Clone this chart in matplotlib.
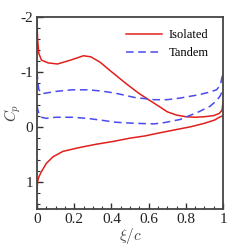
import matplotlib
matplotlib.use("Agg")
import matplotlib.pyplot as plt
from matplotlib.ticker import MultipleLocator

plt.rcParams['font.family'] = ['Liberation Serif', 'DejaVu Serif']
plt.rcParams['mathtext.fontset'] = 'cm'

# isolated airfoil, suction (upper) and pressure (lower) side
iso_up_x = [0, 0.003, 0.01, 0.024, 0.06, 0.11, 0.18, 0.25, 0.29, 0.34, 0.40, 0.48,
            0.55, 0.60, 0.66, 0.70, 0.75, 0.80, 0.85, 0.90, 0.95, 0.98, 0.995, 1.0]
iso_up_cp = [-1.95, -1.6, -1.33, -1.21, -1.16, -1.14, -1.21, -1.29, -1.27, -1.17, -1.0, -0.78,
             -0.6, -0.49, -0.36, -0.27, -0.21, -0.18, -0.17, -0.18, -0.2, -0.24, -0.3, -0.45]
iso_lo_x = [0, 0.002, 0.005, 0.012, 0.024, 0.05, 0.086, 0.14, 0.23, 0.32, 0.41, 0.50,
            0.58, 0.65, 0.74, 0.83, 0.90, 0.955, 0.98, 1.0]
iso_lo_cp = [1.18, 1.05, 0.97, 0.9, 0.82, 0.67, 0.55, 0.45, 0.38, 0.32, 0.27, 0.21,
             0.17, 0.12, 0.06, 0.0, -0.06, -0.12, -0.17, -0.2]

# tandem configuration
tan_up_x = [0, 0.005, 0.01, 0.03, 0.10, 0.19, 0.27, 0.34, 0.42, 0.525, 0.63, 0.70,
            0.77, 0.87, 0.93, 0.965, 0.985, 0.995, 1.0]
tan_up_cp = [-1.0, -0.8, -0.67, -0.6, -0.64, -0.67, -0.67, -0.65, -0.61, -0.53, -0.49, -0.49,
             -0.52, -0.58, -0.63, -0.67, -0.75, -0.9, -0.97]
tan_lo_x = [0, 0.005, 0.012, 0.024, 0.05, 0.10, 0.19, 0.27, 0.34, 0.42, 0.525, 0.63,
            0.68, 0.77, 0.87, 0.93, 0.965, 0.985, 1.0]
tan_lo_cp = [-0.38, -0.3, -0.22, -0.17, -0.15, -0.17, -0.17, -0.15, -0.12, -0.08, -0.06, -0.05,
             -0.07, -0.13, -0.27, -0.37, -0.47, -0.56, -0.67]

x_ticks = [0, 0.2, 0.4, 0.6, 0.8, 1]
x_ticklabels = ['0', '0.2', '0.4', '0.6', '0.8', '1']
y_ticks = [-2, -1, 0, 1]
y_ticklabels = ['-2', '-1', '0', '1']

red = '#e0201c'
blue = '#4a4aee'

fig = plt.figure(figsize=(2.5, 2.5), dpi=100)
ax = fig.add_axes([0.148, 0.164, 0.744, 0.769])

ax.plot(iso_up_x, iso_up_cp, color=red, lw=1.1, label='Isolated')
ax.plot(iso_lo_x, iso_lo_cp, color=red, lw=1.1)
ax.plot(tan_up_x, tan_up_cp, color=blue, lw=1.1, dashes=(5, 3), label='Tandem')
ax.plot(tan_lo_x, tan_lo_cp, color=blue, lw=1.1, dashes=(5, 3))

ax.set_xlim(0, 1)
ax.set_ylim(1.5, -2)
ax.set_xticks(x_ticks, x_ticklabels)
ax.set_yticks(y_ticks, y_ticklabels)
ax.xaxis.set_minor_locator(MultipleLocator(0.05))
ax.yaxis.set_minor_locator(MultipleLocator(0.2))
ax.tick_params(which='both', direction='in', labelsize=11, top=False, right=False,
               color='#333333', labelcolor='#222222')
ax.tick_params(which='major', length=4, width=1, pad=3)
ax.tick_params(which='minor', length=2, width=0.8)
for s in ax.spines.values():
    s.set_linewidth(1.3)
    s.set_color('#444444')

ax.set_xlabel(r'$\xi/c$', fontsize=11, color='#444444', labelpad=0)
ax.set_ylabel(r'$C_p$', fontsize=11, color='#444444', labelpad=-2)

ax.legend(loc='upper right', frameon=False, fontsize=9, handlelength=2.9,
          handletextpad=0.5, labelspacing=0.5, borderaxespad=0.6,
          bbox_to_anchor=(0.99, 1.0))

fig.savefig('out.png', dpi=100)
